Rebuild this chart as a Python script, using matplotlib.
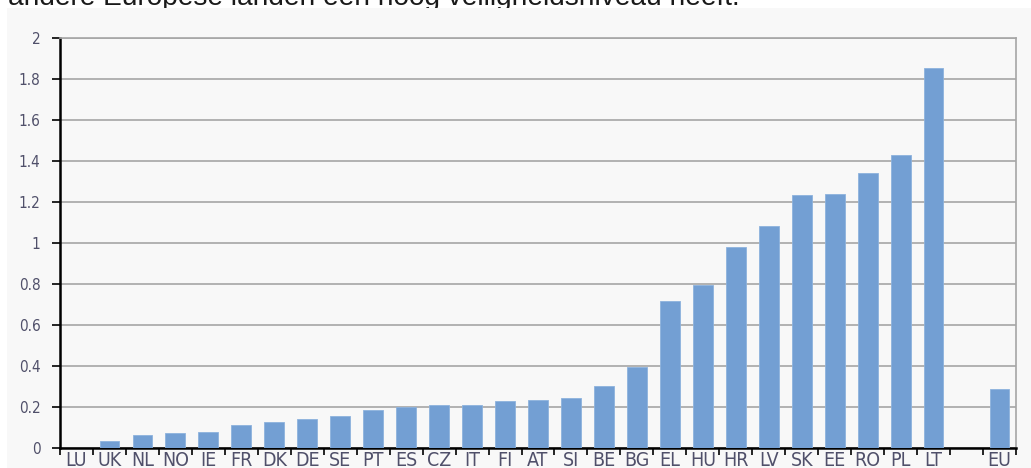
import matplotlib.pyplot as plt
import matplotlib.patches as mpatches
import numpy as np

countries = ["LU", "UK", "NL", "NO", "IE", "FR", "DK", "DE", "SE", "PT",
             "ES", "CZ", "IT", "FI", "AT", "SI", "BE", "BG", "EL", "HU",
             "HR", "LV", "SK", "EE", "RO", "PL", "LT", "", "EU"]
values = [0.0, 0.035, 0.065, 0.072, 0.08, 0.11, 0.125, 0.14, 0.155, 0.185,
          0.2, 0.21, 0.21, 0.23, 0.235, 0.245, 0.302, 0.397, 0.718, 0.797,
          0.98, 1.082, 1.232, 1.239, 1.343, 1.43, 1.855, 0.0, 0.288]
y_ticks = [0, 0.2, 0.4, 0.6, 0.8, 1, 1.2, 1.4, 1.6, 1.8, 2]
y_labels = ["0", "0.2", "0.4", "0.6", "0.8", "1", "1.2", "1.4", "1.6", "1.8", "2"]
caption = "andere Europese landen een hoog veiligheidsniveau heeft."

W, H = 1031, 468
fig = plt.figure(figsize=(W / 100, H / 100), dpi=100)
fig.patch.set_facecolor("white")

# cut-off sentence at the very top (partly hidden by the panel)
fig.text(8 / W, 1 - 5 / H, caption, ha="left", va="baseline",
         fontsize=20.2, family="Liberation Sans", color="#1a1a1a", zorder=-2)

# light grey panel behind the chart
fig.patches.append(mpatches.Rectangle((7 / W, 0), 1 - 7 / W, 1 - 8 / H,
                                      transform=fig.transFigure,
                                      facecolor="#f8f8f8", edgecolor="none", zorder=-1))

ax = fig.add_axes([60 / W, 1 - 448 / H, (1016 - 60) / W, (448 - 38) / H])
ax.set_facecolor("#f8f8f8")

x = np.arange(len(countries))
ax.bar(x, values, width=0.6, color="#739fd3", edgecolor="#8db2dd",
       linewidth=0.6, zorder=3)

ax.set_xlim(-0.5, len(countries) - 0.5)
ax.set_ylim(0, 2)
ax.set_yticks(y_ticks)
ax.set_yticklabels(y_labels)
ax.yaxis.grid(True, color="#a6a6a6", linewidth=1.2, zorder=0)

# category labels at centres, tick marks at boundaries
ax.set_xticks(x)
ax.set_xticklabels(countries)
ax.tick_params(axis="x", which="major", length=0, pad=2)
ax.set_xticks(np.arange(-0.5, len(countries), 1), minor=True)
ax.tick_params(axis="x", which="minor", length=5, width=1.2, color="black",
               direction="out")
ax.tick_params(axis="y", length=6, width=1.2, color="black", pad=8)

for lab in ax.get_xticklabels():
    lab.set_family("DejaVu Sans")
    lab.set_fontstretch("condensed")
    lab.set_fontsize(14)
    lab.set_color("#50506a")
for lab in ax.get_yticklabels():
    lab.set_family("DejaVu Sans")
    lab.set_fontstretch("condensed")
    lab.set_fontsize(11)
    lab.set_color("#50506a")

ax.spines["left"].set_color("black")
ax.spines["left"].set_linewidth(1.8)
ax.spines["bottom"].set_color("black")
ax.spines["bottom"].set_linewidth(1.8)
ax.spines["right"].set_color("#a6a6a6")
ax.spines["right"].set_linewidth(1.2)
ax.spines["top"].set_color("#a6a6a6")
ax.spines["top"].set_linewidth(1.2)
ax.set_axisbelow(True)

fig.savefig("out.png", dpi=100)
